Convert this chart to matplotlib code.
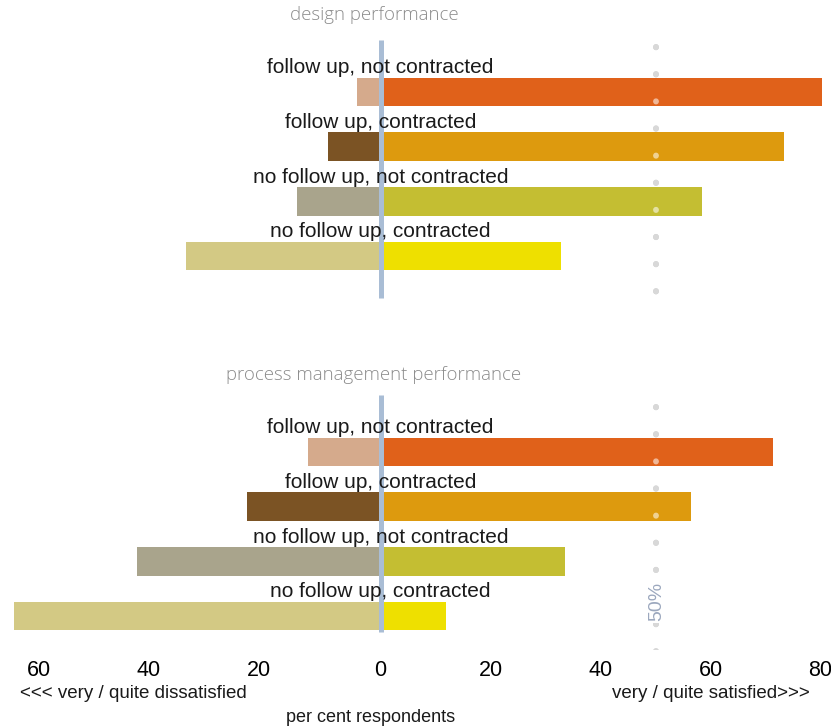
import matplotlib
matplotlib.use("Agg")
import matplotlib.pyplot as plt

# survey groups, top to bottom inside each panel
groups = ["follow up, not contracted", "follow up, contracted",
          "no follow up, not contracted", "no follow up, contracted"]
panel_titles = ["design performance", "process management performance"]

# per cent respondents: dissatisfied (drawn to the left) and satisfied
design_dissatisfied = [4.3, 9.5, 15.2, 35.4]
design_satisfied = [80.3, 73.4, 58.5, 32.8]
process_dissatisfied = [13.2, 24.3, 44.3, 66.6]
process_satisfied = [71.4, 56.5, 33.5, 11.9]

tick_values = [-60, -40, -20, 0, 20, 40, 60, 80]
benchmark = 50

sat_colors = ["#e0611a", "#dd9a0e", "#c4be32", "#eee000"]
dis_colors = ["#d5aa8c", "#7b5324", "#a9a48c", "#d3c984"]
zero_color = "#a9bdd5"
dot_color = "#a9a9a9"
title_color = "#8c8c8c"

W, H = 831, 728
fig = plt.figure(figsize=(W / 100, H / 100), dpi=100)

# one axes for both panels; y unit = distance between two bars
step = 54.67          # px between bars
first = 92            # px of first bar centre
shift = 360 / step    # second panel offset
ax_bottom_px = 650
ax = fig.add_axes([0, (H - ax_bottom_px) / H, 1, ax_bottom_px / H])
ax.set_xlim(-380.5 / 5.5, (W - 380.5) / 5.5)
ax.set_ylim((ax_bottom_px - first) / step, -first / step)

label_font = ["Liberation Sans", "DejaVu Sans"]

# vertical extents of the zero line and the dotted 50% line per panel
zero_spans = [(-0.951, 3.768), (-1.043, 3.292)]
dot_spans = [(-0.82, 3.70), (-0.82, 3.70)]

panels = [(design_dissatisfied, design_satisfied),
          (process_dissatisfied, process_satisfied)]
for p, (dis, sat) in enumerate(panels):
    off = p * shift
    ys = [i + off for i in range(len(groups))]
    ax.barh(ys, [-v for v in dis], height=0.53, color=dis_colors, zorder=2)
    ax.barh(ys, sat, height=0.53, color=sat_colors, zorder=2)
    for y, g in zip(ys, groups):
        ax.text(0, y - 0.44, g, ha="center", va="center", fontsize=15,
                family=label_font, color="#1a1a1a", zorder=5)
    # zero line
    z0, z1 = zero_spans[p]
    ax.vlines(0, off + z0, off + z1, color=zero_color, linewidth=3.6, zorder=4)
    # dotted 50% benchmark: grey dots under the bars, pale dots on top of them
    d0, d1 = dot_spans[p]
    dots = dict(linewidth=4.2, linestyle=(0, (0.05, 4.6)), dash_capstyle="round")
    ax.plot([benchmark, benchmark], [off + d0, off + d1], color=dot_color, zorder=1, **dots)
    ax.plot([benchmark, benchmark], [off + d0, off + d1], color="white", alpha=0.55,
            zorder=3, **dots)
    ax.text(-1.2, off - 1.40, panel_titles[p], ha="center", va="center",
            fontsize=13.4, family=["Open Sans", "DejaVu Sans"], fontweight="light",
            color=title_color)

ax.text(benchmark + 0.2, shift + 2.74, "50%", rotation=90, ha="center", va="center",
        fontsize=14, family=label_font, color="#9ca8be", zorder=6,
        bbox=dict(boxstyle="square,pad=0.1", fc="white", ec="none"))

for s in ax.spines.values():
    s.set_visible(False)
ax.set_yticks([])
ax.set_xticks(tick_values)
ax.set_xticklabels([str(abs(v)) for v in tick_values], family=label_font, fontsize=15.5)
ax.tick_params(axis="x", length=0, pad=7)
for v, lab in zip(tick_values, ax.get_xticklabels()):
    if v < 0:
        lab.set_ha("right")

fig.text(20 / W, 1 - 693 / H, "<<< very / quite dissatisfied", ha="left", va="center",
         fontsize=13.5, family=label_font, color="#1a1a1a")
fig.text(810 / W, 1 - 693 / H, "very / quite satisfied>>>", ha="right", va="center",
         fontsize=13.5, family=label_font, color="#1a1a1a")
fig.text(371 / W, 1 - 717 / H, "per cent respondents", ha="center", va="center",
         fontsize=13, family=label_font, color="#1a1a1a")

fig.savefig("out.png", dpi=100)
